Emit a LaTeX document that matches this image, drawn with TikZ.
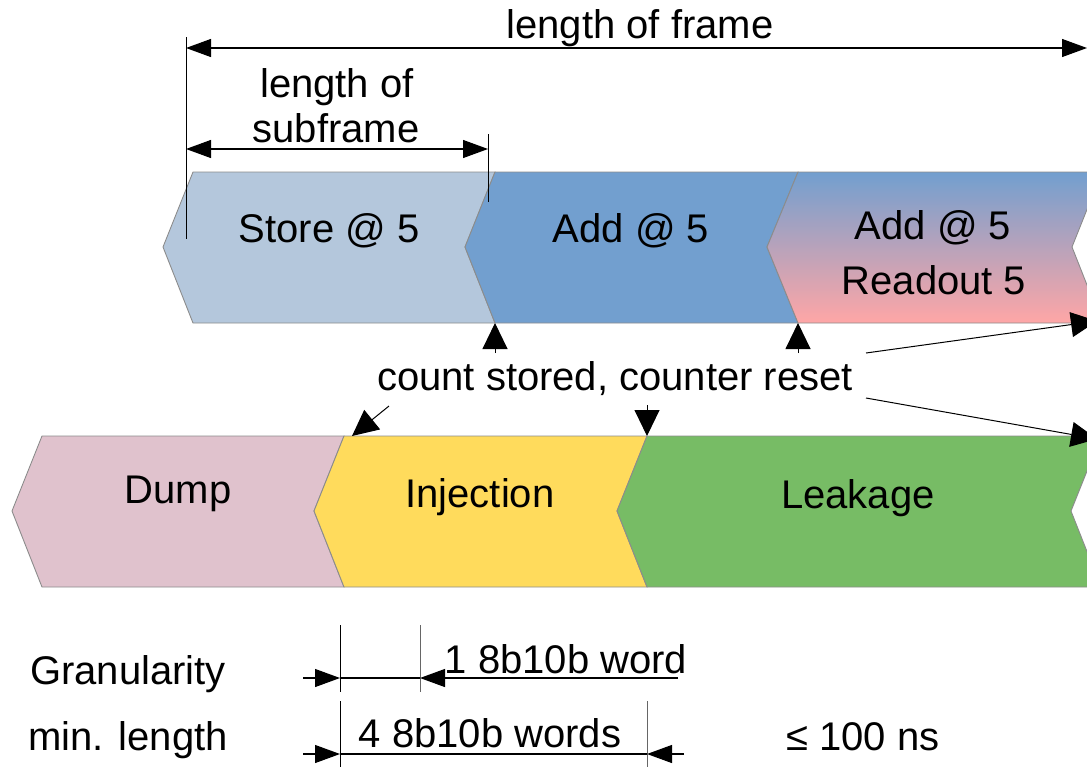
\documentclass[tikz,border=0pt]{standalone}
\usepackage{fontspec}
\setmainfont{Liberation Sans}
\usetikzlibrary{arrows.meta}
\definecolor{storeblue}{HTML}{B4C7DC}
\definecolor{addblue}{HTML}{729FCF}
\definecolor{readpink}{HTML}{FFA6A6}
\definecolor{dumppink}{HTML}{E0C2CD}
\definecolor{injyellow}{HTML}{FFDB5C}
\definecolor{leakgreen}{HTML}{77BC65}
\definecolor{edgegray}{HTML}{8C8C8C}
\tikzset{
  phase/.style={draw=edgegray, line width=0.9pt},
  lbl/.style={font=\fontsize{40}{46}\selectfont, anchor=base, inner sep=0pt},
  marker/.style={-{Triangle[length=26pt,width=25pt]}},
  dimend/.style={-{Triangle[length=25pt,width=18pt]}},
  dimboth/.style={{Triangle[length=25pt,width=18pt]}-{Triangle[length=25pt,width=18pt]}},
  dimline/.style={line width=1.1pt},
  extline/.style={line width=1pt},
}
\begin{document}
\begin{tikzpicture}[x=1pt,y=-1pt]
\useasboundingbox (0,0) rectangle (1087,766);
\begin{scope}
\clip (0,0) rectangle (1087,766);

% upper row of subframes
\path[phase, fill=storeblue] (163,247) -- (193,172) -- (495,172) -- (465,247) -- (495,323) -- (193,323) -- cycle;
\path[phase, fill=addblue] (465,247) -- (495,172) -- (798,172) -- (767,247) -- (798,323) -- (495,323) -- cycle;
\shade[top color=addblue, bottom color=readpink] (767,247) -- (798,172) -- (1102,172) -- (1072,247) -- (1102,323) -- (798,323) -- cycle;
\draw[phase] (767,247) -- (798,172) -- (1102,172) -- (1072,247) -- (1102,323) -- (798,323) -- cycle;

% lower row of phases
\path[phase, fill=dumppink] (12,511) -- (42,436) -- (344,436) -- (314,511) -- (344,587) -- (42,587) -- cycle;
\path[phase, fill=injyellow] (314,511) -- (344,436) -- (647,436) -- (617,511) -- (647,587) -- (344,587) -- cycle;
\path[phase, fill=leakgreen] (617,511) -- (647,436) -- (1101,436) -- (1071,511) -- (1101,587) -- (647,587) -- cycle;

% phase labels
\node[lbl] (store) at (329,242) {Store @ 5};
\node[lbl] (add) at (631,242) {Add @ 5};
\node[lbl] (addr) at (933,239) {Add @ 5};
\node[lbl] (readout) at (934,294) {Readout 5};
\node[lbl] (dump) at (178,503) {Dump};
\node[lbl] (inj) at (480,507) {Injection};
\node[lbl] (leak) at (858,508) {Leakage};

% frame and subframe dimensions
\coordinate (frL) at (186,37);
\coordinate (frLb) at (186,239);
\coordinate (sfR) at (488,134);
\coordinate (sfRb) at (488,202);
\draw[extline] (frL) -- (frLb);
\draw[extline] (sfR) -- (sfRb);
\coordinate (frA) at (186,48);
\coordinate (frB) at (1087,48);
\draw[dimline, dimboth] (frA) -- (frB);
\coordinate (sfA) at (186,149);
\coordinate (sfB) at (488,149);
\draw[dimline, dimboth] (sfA) -- (sfB);
\node[lbl] (frame) at (640,38) {length of frame};
\node[lbl] (sub1) at (337,97) {length of};
\node[lbl] (sub2) at (336,142) {subframe};

% store / reset markers
\node[lbl] (cs) at (615,390) {count stored, counter reset};
\coordinate (m1t) at (495,353);
\coordinate (m1) at (495,323);
\coordinate (m2t) at (798,353);
\coordinate (m2) at (798,323);
\coordinate (m3t) at (866,353);
\coordinate (m3) at (1097,321);
\coordinate (m4t) at (866,398);
\coordinate (m4) at (1097,439);
\coordinate (m5t) at (389,406);
\coordinate (m5) at (352,436);
\coordinate (m6t) at (647,405);
\coordinate (m6) at (647,436);
\draw[extline, marker] (m1t) -- (m1);
\draw[extline, marker] (m2t) -- (m2);
\draw[extline, marker] (m3t) -- (m3);
\draw[extline, marker] (m4t) -- (m4);
\draw[extline, marker] (m5t) -- (m5);
\draw[extline, marker] (m6t) -- (m6);

% granularity and minimum length
\node[lbl] (gran) at (128,684) {Granularity};
\node[lbl] (minl) at (128,750) {min. length};
\coordinate (g1t) at (340,625);
\coordinate (g1b) at (340,692);
\coordinate (g2t) at (420,625);
\coordinate (g2b) at (420,692);
\draw[extline] (g1t) -- (g1b);
\draw[extline, black!60] (g2t) -- (g2b);
\coordinate (gA) at (303,678);
\coordinate (gL) at (340,678);
\coordinate (gR) at (420,678);
\coordinate (gB) at (678,678);
\draw[dimline, dimend] (gA) -- (gL);
\draw[dimline] (gL) -- (gR);
\draw[dimline, dimend] (gB) -- (gR);
\node[lbl] (word) at (566,673) {1 8b10b word};

\coordinate (l1t) at (340,701);
\coordinate (l1b) at (340,770);
\coordinate (l2t) at (647,701);
\coordinate (l2b) at (647,770);
\draw[extline] (l1t) -- (l1b);
\draw[extline, black!60] (l2t) -- (l2b);
\coordinate (lA) at (303,754);
\coordinate (lL) at (340,754);
\coordinate (lR) at (647,754);
\coordinate (lB) at (684,754);
\draw[dimline, dimend] (lA) -- (lL);
\draw[dimline] (lL) -- (lR);
\draw[dimline, dimend] (lB) -- (lR);
\node[lbl] (words) at (490,747) {4 8b10b words};
\node[lbl] (ns) at (863,750) {≤ 100 ns};
\end{scope}
\end{tikzpicture}
\end{document}
